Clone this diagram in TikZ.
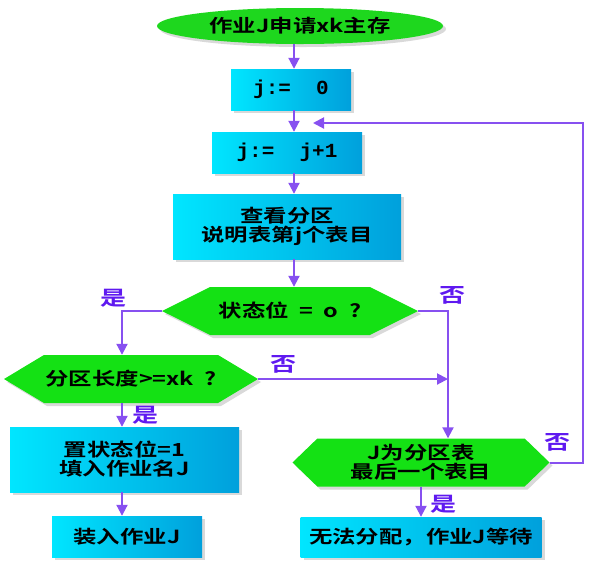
\documentclass[tikz,border=0pt]{standalone}
\usepackage{fontspec}
\setmainfont{Noto Sans CJK SC}[BoldFont={Noto Sans CJK SC Bold}, FakeStretch=1.3]
\newfontfamily\jfont{Liberation Mono}[FakeStretch=1.05]
\definecolor{startgreen}{RGB}{30, 215, 30}
\definecolor{choicegreen}{RGB}{20, 225, 20}
\definecolor{boxlight}{RGB}{0, 230, 255}
\definecolor{boxdark}{RGB}{0, 160, 220}
\definecolor{flowpurple}{RGB}{135, 80, 240}
\definecolor{labelblue}{RGB}{95, 25, 240}
\usetikzlibrary{shapes.geometric, shapes.symbols, arrows.meta, shadows}
\tikzset{
    boxshadow/.style={drop shadow={opacity=0.3, shadow xshift=3pt, shadow yshift=-3pt}},
    startbox/.style={ellipse, fill=startgreen, inner sep=0pt, boxshadow,
        minimum width=286pt, minimum height=36pt,
        font=\fontsize{18}{19}\selectfont\bfseries},
    procbox/.style={rectangle, left color=boxlight, right color=boxdark,
        inner sep=0pt, align=center, boxshadow,
        font=\fontsize{18}{19}\selectfont\bfseries},
    choicebox/.style={signal, signal to=east and west, fill=choicegreen,
        inner sep=0pt, align=center, boxshadow, minimum height=48pt,
        font=\fontsize{18}{19}\selectfont\bfseries},
    flowarrow/.style={draw=flowpurple, line width=2pt,
        -{Triangle[length=11pt, width=11pt]}},
    answer/.style={text=labelblue, font=\fontsize{20}{20}\selectfont\bfseries},
}
\begin{document}
\begin{tikzpicture}[x=1pt, y=-1pt]
    \useasboundingbox (0, 0) rectangle (593, 566);
    \coordinate (maxis) at (294, 0);
    \coordinate (laxis) at (122, 0);
    \coordinate (raxis) at (448, 0);
    \coordinate (rloop) at (583, 0);
    \coordinate (loopin) at (313, 123);

    \node[startbox] (start) at (300, 26) {作业J申请xk主存};
    \node[procbox, minimum width=120pt, minimum height=41pt] (init) at (291, 89.5)
        {\jfont\bfseries\fontsize{20}{20}\selectfont j:=\ \ 0};
    \node[procbox, minimum width=150pt, minimum height=41pt] (incr) at (287, 152.5)
        {\jfont\bfseries\fontsize{20}{20}\selectfont j:=\ \ j+1};
    \node[procbox, minimum width=228pt, minimum height=65pt] (lookup) at (287, 226.5)
        {查看分区\\说明表第j个表目};
    \node[choicebox, minimum width=256pt, signal pointer angle=53] (free) at (290, 311)
        {状态位~~=~~o~~?};
    \node[choicebox, minimum width=254pt, signal pointer angle=62] (fits) at (131, 379)
        {分区长度>=xk~~?};
    \node[procbox, minimum width=229pt, minimum height=65pt] (assign) at (124.5, 459.5)
        {置状态位=1\\填入作业名J};
    \node[procbox, minimum width=150pt, minimum height=41pt] (load) at (127, 536.5)
        {装入作业J};
    \node[choicebox, minimum width=257pt, signal pointer angle=88] (last) at (421, 462.5)
        {J为分区表\\最后一个表目};
    \node[procbox, minimum width=241pt, minimum height=40pt] (wait) at (421, 537)
        {无法分配，作业J等待};

    \draw[flowarrow] (start.south -| maxis) -- (init.north -| maxis);
    \draw[flowarrow] (init.south -| maxis) -- (incr.north -| maxis);
    \draw[flowarrow] (incr.south -| maxis) -- (lookup.north -| maxis);
    \draw[flowarrow] (lookup.south -| maxis) -- (free.north -| maxis);
    \draw[flowarrow] (free.west) -| (fits.north -| laxis);
    \draw[flowarrow] (free.east) -| (last.north -| raxis);
    \draw[flowarrow] (fits.east) -- (fits.east -| raxis);
    \draw[flowarrow] (fits.south -| laxis) -- (assign.north -| laxis);
    \draw[flowarrow] (assign.south -| laxis) -- (load.north -| laxis);
    \draw[flowarrow] (last.south) -- (wait.north);
    \draw[flowarrow] (last.east) -- (last.east -| rloop) |- (loopin);

    \node[answer] (yesfree) at (113, 298) {是};
    \node[answer] (nofree) at (452, 295) {否};
    \node[answer] (nofits) at (283, 364) {否};
    \node[answer] (yesfits) at (145, 415) {是};
    \node[answer] (nolast) at (557, 442) {否};
    \node[answer] (yeslast) at (443, 504) {是};
\end{tikzpicture}
\end{document}
